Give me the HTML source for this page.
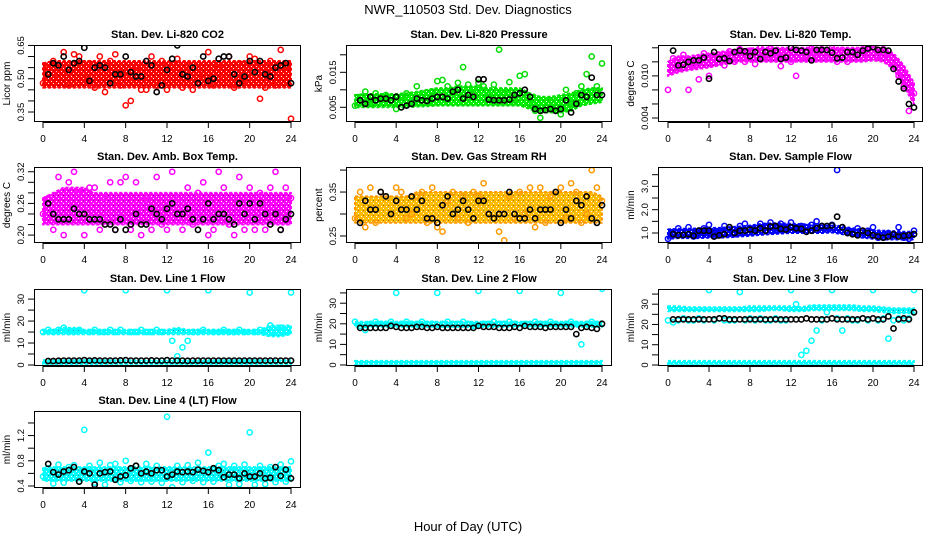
<!DOCTYPE html>
<html><head><meta charset="utf-8">
<style>
html,body{margin:0;padding:0;background:#fff;}
svg{display:block;font-family:"Liberation Sans",sans-serif;}
</style></head>
<body>
<svg id="chart" width="936" height="540" viewBox="0 0 936 540" xmlns="http://www.w3.org/2000/svg">
<text x="468" y="14" text-anchor="middle" font-size="13">NWR_110503  Std. Dev. Diagnostics</text>
<text x="468" y="531" text-anchor="middle" font-size="13">Hour of Day (UTC)</text>
</svg>
<script>
const hours = [0,1,2,3,4,5,6,7,8,9,10,11,12,13,14,15,16,17,18,19,20,21,22,23,24];
const halfHours = [0,0.5,1,1.5,2,2.5,3,3.5,4,4.5,5,5.5,6,6.5,7,7.5,8,8.5,9,9.5,10,10.5,11,11.5,12,12.5,13,13.5,14,14.5,15,15.5,16,16.5,17,17.5,18,18.5,19,19.5,20,20.5,21,21.5,22,22.5,23,23.5,24];
const blackHours = [0.5,1,1.5,2,2.5,3,3.5,4,4.5,5,5.5,6,6.5,7,7.5,8,8.5,9,9.5,10,10.5,11,11.5,12,12.5,13,13.5,14,14.5,15,15.5,16,16.5,17,17.5,18,18.5,19,19.5,20,20.5,21,21.5,22,22.5,23,23.5,24];
const xTicks = [0,4,8,12,16,20,24];

// CO2
const co2Lo = [0.46,0.46,0.46,0.46,0.46,0.46,0.46,0.46,0.46,0.46,0.46,0.46,0.46,0.46,0.46,0.46,0.46,0.46,0.46,0.46,0.46,0.46,0.46,0.46,0.46];
const co2Hi = [0.57,0.58,0.58,0.58,0.58,0.58,0.58,0.58,0.58,0.58,0.58,0.58,0.58,0.58,0.58,0.58,0.58,0.58,0.58,0.58,0.58,0.58,0.58,0.58,0.58];
const co2Col = [0.48,0.55,0.58,0.52,0.62,0.47,0.61,0.60,0.50,0.57,0.46,0.60,0.44,0.58,0.61,0.47,0.38,0.40,0.55,0.45,0.45,0.60,0.47,0.58,0.45,0.55,0.59,0.46,0.56,0.45,0.55,0.52,0.62,0.47,0.55,0.50,0.60,0.46,0.57,0.49,0.60,0.59,0.41,0.46,0.58,0.47,0.63,0.55,0.32];
const co2Blk = [0.52,0.57,0.56,0.60,0.54,0.57,0.58,0.64,0.49,0.55,0.56,0.55,0.48,0.52,0.52,0.60,0.53,0.51,0.51,0.58,0.56,0.44,0.47,0.54,0.59,0.65,0.52,0.51,0.55,0.48,0.60,0.49,0.50,0.59,0.60,0.60,0.52,0.48,0.51,0.58,0.53,0.58,0.52,0.51,0.55,0.56,0.57,0.48];
// Pressure
const prsLo = [0.0050,0.0050,0.0050,0.0050,0.0050,0.0050,0.0052,0.0053,0.0055,0.0055,0.0055,0.0055,0.0055,0.0055,0.0055,0.0055,0.0055,0.0045,0.0035,0.0035,0.0035,0.0040,0.0055,0.0060,0.0065];
const prsHi = [0.0085,0.0088,0.0088,0.0088,0.0088,0.0090,0.0095,0.0100,0.0105,0.0105,0.0110,0.0110,0.0110,0.0105,0.0105,0.0105,0.0105,0.0090,0.0080,0.0080,0.0085,0.0090,0.0100,0.0105,0.0105];
const prsCol = [0.0055,0.0080,0.0095,0.0060,0.0090,0.0075,0.0085,0.0070,0.0045,0.0080,0.0090,0.0060,0.0110,0.0080,0.0070,0.0095,0.0125,0.0128,0.0110,0.0090,0.0120,0.0165,0.0115,0.0090,0.0120,0.0110,0.0080,0.0115,0.0215,0.0090,0.0122,0.0070,0.0140,0.0145,0.0060,0.0040,0.0020,0.0050,0.0070,0.0050,0.0030,0.0100,0.0060,0.0090,0.0110,0.0145,0.0195,0.0110,0.0175];
const prsBlk = [0.0070,0.0060,0.0080,0.0070,0.0075,0.0075,0.0070,0.0080,0.0050,0.0055,0.0060,0.0075,0.0070,0.0068,0.0075,0.0080,0.0080,0.0075,0.0095,0.0100,0.0075,0.0085,0.0080,0.0130,0.0130,0.0072,0.0070,0.0070,0.0070,0.0072,0.0085,0.0090,0.0100,0.0080,0.0045,0.0040,0.0042,0.0045,0.0040,0.0045,0.0070,0.0035,0.0060,0.0085,0.0080,0.0135,0.0085,0.0085];
// Li temp
const ltLo = [0.0100,0.0105,0.0108,0.0110,0.0112,0.0115,0.0118,0.0120,0.0120,0.0120,0.0120,0.0120,0.0120,0.0120,0.0120,0.0120,0.0120,0.0120,0.0120,0.0120,0.0122,0.0120,0.0110,0.0085,0.0060];
const ltHi = [0.0120,0.0128,0.0128,0.0130,0.0132,0.0134,0.0136,0.0138,0.0139,0.0140,0.0140,0.0140,0.0140,0.0140,0.0140,0.0140,0.0140,0.0140,0.0140,0.0140,0.0141,0.0140,0.0132,0.0115,0.0090];
const ltCol = [0.0080,0.0125,0.0110,0.0130,0.0080,0.0115,0.0095,0.0132,0.0100,0.0125,0.0130,0.0115,0.0135,0.0120,0.0138,0.0120,0.0136,0.0117,0.0140,0.0125,0.0139,0.0130,0.0114,0.0135,0.0120,0.0100,0.0136,0.0125,0.0139,0.0130,0.0138,0.0125,0.0140,0.0120,0.0137,0.0120,0.0136,0.0125,0.0138,0.0130,0.0140,0.0128,0.0138,0.0125,0.0115,0.0100,0.0085,0.0050,0.0075];
const ltBlk = [0.0136,0.0115,0.0116,0.0120,0.0122,0.0122,0.0126,0.0096,0.0134,0.0124,0.0125,0.0121,0.0134,0.0136,0.0135,0.0128,0.0134,0.0124,0.0134,0.0132,0.0136,0.0124,0.0126,0.0140,0.0137,0.0136,0.0134,0.0122,0.0137,0.0137,0.0137,0.0133,0.0125,0.0126,0.0134,0.0134,0.0130,0.0136,0.0139,0.0141,0.0137,0.0137,0.0136,0.0110,0.0092,0.0082,0.0060,0.0055];
// Amb box temp
const abLo = [0.22,0.22,0.22,0.22,0.22,0.22,0.22,0.22,0.22,0.22,0.22,0.22,0.22,0.22,0.22,0.22,0.22,0.22,0.22,0.22,0.22,0.22,0.22,0.22,0.22];
const abHi = [0.27,0.28,0.29,0.29,0.29,0.28,0.28,0.28,0.28,0.28,0.28,0.28,0.28,0.28,0.28,0.28,0.28,0.28,0.28,0.28,0.28,0.28,0.28,0.28,0.28];
const abCol = [0.24,0.27,0.21,0.31,0.20,0.30,0.32,0.28,0.20,0.29,0.29,0.21,0.27,0.30,0.21,0.30,0.31,0.21,0.30,0.20,0.27,0.21,0.31,0.22,0.21,0.32,0.27,0.21,0.29,0.22,0.28,0.30,0.20,0.21,0.32,0.29,0.22,0.20,0.31,0.21,0.29,0.21,0.28,0.21,0.29,0.32,0.21,0.29,0.27];
const abBlk = [0.26,0.24,0.23,0.23,0.23,0.25,0.24,0.24,0.23,0.23,0.23,0.22,0.22,0.21,0.23,0.21,0.22,0.24,0.22,0.22,0.25,0.24,0.23,0.25,0.26,0.24,0.24,0.25,0.23,0.21,0.23,0.26,0.23,0.24,0.24,0.23,0.22,0.26,0.24,0.26,0.23,0.26,0.24,0.22,0.24,0.21,0.23,0.24];
// RH
const rhLo = [0.28,0.28,0.28,0.28,0.28,0.28,0.28,0.28,0.28,0.28,0.28,0.28,0.28,0.28,0.28,0.28,0.28,0.28,0.28,0.28,0.28,0.28,0.28,0.28,0.28];
const rhHi = [0.34,0.34,0.34,0.34,0.34,0.34,0.35,0.35,0.35,0.35,0.35,0.35,0.35,0.35,0.35,0.35,0.35,0.35,0.35,0.35,0.35,0.35,0.35,0.35,0.34];
const rhCol = [0.29,0.35,0.27,0.36,0.28,0.35,0.34,0.30,0.36,0.35,0.29,0.30,0.34,0.35,0.28,0.36,0.27,0.26,0.33,0.35,0.29,0.34,0.28,0.35,0.34,0.37,0.30,0.29,0.26,0.24,0.34,0.29,0.35,0.30,0.36,0.27,0.36,0.28,0.34,0.35,0.36,0.29,0.37,0.35,0.28,0.30,0.40,0.36,0.33];
const rhBlk = [0.28,0.33,0.31,0.31,0.35,0.34,0.30,0.33,0.31,0.31,0.34,0.31,0.33,0.29,0.29,0.28,0.32,0.34,0.30,0.31,0.33,0.31,0.29,0.33,0.33,0.30,0.29,0.30,0.30,0.35,0.30,0.29,0.29,0.31,0.29,0.31,0.31,0.31,0.35,0.28,0.31,0.29,0.33,0.32,0.34,0.29,0.28,0.32];
// Sample flow
const sfLo = [0.75,0.78,0.78,0.78,0.80,0.80,0.82,0.85,0.88,0.92,0.95,0.98,1.00,1.00,1.00,1.00,1.02,0.95,0.85,0.80,0.75,0.72,0.72,0.72,0.72];
const sfHi = [1.15,1.18,1.18,1.20,1.22,1.22,1.25,1.28,1.32,1.38,1.42,1.42,1.40,1.38,1.36,1.36,1.35,1.28,1.20,1.15,1.12,1.10,1.08,1.05,1.05];
const sfCol = [0.75,1.05,1.20,0.90,1.25,0.85,1.10,1.20,1.35,0.85,1.05,1.30,1.15,0.95,1.30,1.40,1.20,1.15,1.40,1.30,1.45,1.15,1.40,1.20,1.45,1.15,1.30,1.25,1.35,1.50,1.30,1.20,1.35,3.70,1.25,1.10,1.00,1.20,0.90,1.10,1.25,0.80,0.85,1.00,0.90,1.25,0.80,0.75,1.10];
const sfBlk = [0.95,0.90,0.92,0.95,0.88,1.10,1.10,1.10,0.85,0.90,0.95,1.25,1.00,1.10,1.10,1.15,1.10,1.20,1.10,1.28,1.30,1.18,1.15,1.25,1.20,1.18,1.05,1.10,1.20,1.30,1.30,1.32,1.70,1.25,1.00,0.95,0.90,1.10,1.00,0.90,0.85,0.80,0.85,0.95,0.85,0.88,0.90,0.95];
// Line 1 flow
const l1Lo = [14,14,14,14,14,14,14,14,14,14,14,14,14,14,14,14,14,14,14,14,14,14,13,13,14];
const l1Hi = [16,16,17,17,16,16,16,16,16,16,16,16,16,17,16,16,16,16,16,16,16,16,18,18,18];
const l1Lo2 = [0.3,0.3,0.3,0.3,0.3,0.3,0.3,0.3,0.3,0.3,0.3,0.3,0.3,0.3,0.3,0.3,0.3,0.3,0.3,0.3,0.3,0.3,0.3,0.3,0.3];
const l1Hi2 = [2.2,2.2,2.2,2.2,2.2,2.2,2.2,2.2,2.2,2.2,2.2,2.2,2.2,2.2,2.2,2.2,2.2,2.2,2.2,2.2,2.2,2.2,2.2,2.2,2.2];
const l1Col = [15,16,15,16,17,15,15,16,34,15,16,15,15,16,15,16,34,15,15,16,15,15,16,15,34,11,4,8,11,15,15,16,34,15,15,16,15,15,16,15,33,15,16,15,18,15,17,15,33];
const l1Blk = [1.8,1.8,1.9,2.0,2.0,2.0,2.0,2.2,2.0,2.1,2.0,2.0,2.0,2.0,2.1,2.2,2.0,2.0,2.0,2.0,2.1,2.0,2.0,2.2,2.0,2.0,2.0,1.9,2.0,2.0,2.0,2.0,2.0,2.0,2.0,2.0,2.0,2.0,2.0,2.0,2.0,2.0,2.0,2.0,2.0,2.0,2.0,2.0];
// Line 2 flow
const l2Lo = [18.5,18.5,18.5,18.5,18.5,18.5,18.5,18.5,18.5,18.5,18.5,18.5,18.5,18.5,18.5,18.5,18.5,18.5,18.5,18.5,18.5,18.5,18.5,18.5,18.5];
const l2Hi = [21,21,21,21,21,21,21,21,21,21,21,21,21,21,21,21,21,21,21,21,21,21,21,21,21];
const l2Lo2 = [0.2,0.2,0.2,0.2,0.2,0.2,0.2,0.2,0.2,0.2,0.2,0.2,0.2,0.2,0.2,0.2,0.2,0.2,0.2,0.2,0.2,0.2,0.2,0.2,0.2];
const l2Hi2 = [2,2,2,2,2,2,2,2,2,2,2,2,2,2,2,2,2,2,2,2,2,2,2,2,2];
const l2Col = [21,19,17,20,21,20,20,21,35,20,21,20,20,21,20,20,35,20,21,20,20,21,20,19,36,20,20,21,20,20,21,20,36,20,20,21,20,20,21,20,35,20,21,20,10,20,21,20,37];
const l2Blk = [18,18,18,18,18,18,19,18.5,18,18,18,18.5,18.5,18,18,18.5,18,18,18,18,18,18,18,19,18.5,18.5,18.5,18,18,18,18.5,18,19,18.5,18.5,18.5,18,18.5,18.5,18.5,18.5,18.5,15,18,18.5,18,17.5,20];
// Line 3 flow
const l3Lo = [26.5,26.5,26.5,26.5,26.5,26.5,26.5,26.5,26.5,26.5,27,27,26.5,26.5,27,27,27,27,27,26.5,26.5,26,25.5,25.5,25.5];
const l3Hi = [29,29,28.5,28.5,28.5,28.5,28.5,28.5,29,29,29,29,29,28.5,29.5,29.5,29.5,29.5,29.5,29,29,28.5,28,28,28];
const l3Lo2 = [0.2,0.2,0.2,0.2,0.2,0.2,0.2,0.2,0.2,0.2,0.2,0.2,0.2,0.2,0.2,0.2,0.2,0.2,0.2,0.2,0.2,0.2,0.2,0.2,0.2];
const l3Hi2 = [2,2,2,2,2,2,2,2,2,2,2,2,2,2,2,2,2,2,2,2,2,2,2,2,2];
const l3Col = [22,21,22,23,22,22,23,22,37,22,23,22,22,22,36,22,23,22,23,22,22,23,22,22,37,30,5,7,12,17,22,26,37,23,17,23,22,22,23,22,37,22,23,13,22,23,22,23,37];
const l3Blk = [22.5,22.5,22.5,22.5,22.5,22.5,22.5,22.5,22.5,23,23,22.5,22.5,22.5,22.5,22.5,22.5,22.5,22.5,22.5,22.5,22.5,22.5,22.5,22.5,22.5,23,22.5,22.5,22.5,22.5,23,22.5,22.5,22.5,22.5,22.5,23,22.5,23,22.5,22.5,24,18,22.5,23,22.5,26];
// Line 4 flow
const l4Lo = [0.48,0.48,0.48,0.48,0.48,0.48,0.48,0.48,0.48,0.48,0.48,0.48,0.48,0.48,0.48,0.48,0.48,0.48,0.48,0.48,0.48,0.48,0.48,0.48,0.48];
const l4Hi = [0.68,0.70,0.70,0.70,0.70,0.70,0.70,0.70,0.70,0.70,0.70,0.70,0.70,0.70,0.70,0.70,0.70,0.70,0.70,0.70,0.70,0.70,0.70,0.70,0.70];
const l4Col = [0.55,0.68,0.44,0.74,0.45,0.70,0.73,0.47,1.29,0.72,0.45,0.77,0.42,0.73,0.75,0.46,0.80,0.48,0.72,0.46,0.75,0.47,0.72,0.45,1.50,0.38,0.72,0.46,0.73,0.48,0.77,0.46,0.93,0.47,0.72,0.75,0.42,0.72,0.43,0.74,1.25,0.42,0.72,0.43,0.70,0.46,0.74,0.47,0.79];
const l4Blk = [0.75,0.62,0.58,0.63,0.65,0.70,0.47,0.63,0.60,0.42,0.60,0.62,0.63,0.50,0.55,0.57,0.68,0.72,0.60,0.63,0.60,0.65,0.65,0.55,0.58,0.63,0.62,0.63,0.62,0.66,0.64,0.62,0.68,0.65,0.54,0.58,0.58,0.52,0.60,0.55,0.55,0.60,0.52,0.53,0.70,0.56,0.66,0.52];

// y tick values & labels per panel
const co2Ticks = [0.35,0.40,0.45,0.50,0.55,0.60,0.65];
const co2Labels = ["0.35","","","0.50","","","0.65"];
const prsTicks = [0.005,0.010,0.015,0.020];
const prsLabels = ["0.005","","0.015",""];
const ltTicks = [0.004,0.006,0.008,0.010,0.012,0.014];
const ltLabels = ["0.004","","","0.010","",""];
const abTicks = [0.20,0.22,0.24,0.26,0.28,0.30,0.32];
const abLabels = ["0.20","","","0.26","","","0.32"];
const rhTicks = [0.25,0.30,0.35,0.40];
const rhLabels = ["0.25","","0.35",""];
const sfTicks = [1.0,1.5,2.0,2.5,3.0,3.5];
const sfLabels = ["1.0","","2.0","","3.0",""];
const l1Ticks = [0,5,10,15,20,25,30];
const l1Labels = ["0","","10","","20","","30"];
const l2Ticks = [0,5,10,15,20,25,30,35];
const l2Labels = ["0","","10","","20","","30",""];
const l4Ticks = [0.4,0.6,0.8,1.0,1.2,1.4];
const l4Labels = ["0.4","","0.8","","1.2",""];

const NS = "http://www.w3.org/2000/svg";
const svg = document.getElementById('chart');
const cols = [{l:34,r:301,x0:43,x24:291},{l:346,r:612,x0:355,x24:602},{l:658,r:923,x0:668,x24:914}];
const rows = [{t:45,b:122},{t:167,b:243},{t:289,b:366},{t:411,b:488}];

function mk(tag, attrs, parent){const e=document.createElementNS(NS,tag);for(const k in attrs)e.setAttribute(k,attrs[k]);(parent||svg).appendChild(e);return e;}

const defs = mk('defs',{});
function pattern(id,color){
  const p = mk('pattern',{id:id,width:5,height:5,patternUnits:'userSpaceOnUse'},defs);
  mk('rect',{x:0,y:0,width:5,height:5,fill:color},p);
  mk('rect',{x:1,y:1,width:1,height:1,fill:'#fff'},p);
  mk('rect',{x:3,y:3,width:1,height:1,fill:'#fff'},p);
  mk('rect',{x:3,y:0,width:1,height:1,fill:'#000','fill-opacity':0.35},p);
}
pattern('p-red','#ff0000');pattern('p-green','#00ee00');pattern('p-mag','#ff00ff');
pattern('p-org','#ffbb00');pattern('p-blue','#0000ff');pattern('p-cyan','#00ffff');

const panels = [
 {name:'co2',title:'Stan. Dev. Li-820 CO2',ylab:'Licor ppm',c:0,r:0,ymin:0.305,ymax:0.652,ticks:co2Ticks,labels:co2Labels,color:'#ff0000',pat:'p-red',bands:[[co2Lo,co2Hi]],col:co2Col,blk:co2Blk},
 {name:'pressure',title:'Stan. Dev. Li-820 Pressure',ylab:'kPa',c:1,r:0,ymin:0.0008,ymax:0.0228,ticks:prsTicks,labels:prsLabels,color:'#00dd00',pat:'p-green',bands:[[prsLo,prsHi]],col:prsCol,blk:prsBlk},
 {name:'li-temp',title:'Stan. Dev. Li-820 Temp.',ylab:'degrees C',c:2,r:0,ymin:0.00343,ymax:0.0144,ticks:ltTicks,labels:ltLabels,color:'#ff00ff',pat:'p-mag',bands:[[ltLo,ltHi]],col:ltCol,blk:ltBlk},
 {name:'amb-box-temp',title:'Stan. Dev. Amb. Box Temp.',ylab:'degrees C',c:0,r:1,ymin:0.185,ymax:0.329,ticks:abTicks,labels:abLabels,color:'#ff00ff',pat:'p-mag',bands:[[abLo,abHi]],col:abCol,blk:abBlk},
 {name:'gas-rh',title:'Stan. Dev. Gas Stream RH',ylab:'percent',c:1,r:1,ymin:0.234,ymax:0.407,ticks:rhTicks,labels:rhLabels,color:'#ff9900',pat:'p-org',bands:[[rhLo,rhHi]],col:rhCol,blk:rhBlk},
 {name:'sample-flow',title:'Stan. Dev. Sample Flow',ylab:'ml/min',c:2,r:1,ymin:0.571,ymax:3.83,ticks:sfTicks,labels:sfLabels,color:'#0000ff',pat:'p-blue',bands:[[sfLo,sfHi]],col:sfCol,blk:sfBlk},
 {name:'line1-flow',title:'Stan. Dev. Line 1 Flow',ylab:'ml/min',c:0,r:2,ymin:-0.46,ymax:34.6,ticks:l1Ticks,labels:l1Labels,color:'#00ffff',pat:'p-cyan',bands:[[l1Lo,l1Hi],[l1Lo2,l1Hi2]],col:l1Col,blk:l1Blk},
 {name:'line2-flow',title:'Stan. Dev. Line 2 Flow',ylab:'ml/min',c:1,r:2,ymin:-0.5,ymax:36.9,ticks:l2Ticks,labels:l2Labels,color:'#00ffff',pat:'p-cyan',bands:[[l2Lo,l2Hi],[l2Lo2,l2Hi2]],col:l2Col,blk:l2Blk},
 {name:'line3-flow',title:'Stan. Dev. Line 3 Flow',ylab:'ml/min',c:2,r:2,ymin:-0.5,ymax:37.5,ticks:l2Ticks,labels:l2Labels,color:'#00ffff',pat:'p-cyan',bands:[[l3Lo,l3Hi],[l3Lo2,l3Hi2]],col:l3Col,blk:l3Blk},
 {name:'line4-flow',title:'Stan. Dev. Line 4 (LT) Flow',ylab:'ml/min',c:0,r:3,ymin:0.368,ymax:1.59,ticks:l4Ticks,labels:l4Labels,color:'#00ffff',pat:'p-cyan',bands:[[l4Lo,l4Hi]],col:l4Col,blk:l4Blk}
];

panels.forEach(p=>{
  const C=cols[p.c], R=rows[p.r];
  const g = mk('g',{});
  
  
  const xs = h => C.x0 + h/24*(C.x24-C.x0);
  const ys = v => R.b - (v-p.ymin)/(p.ymax-p.ymin)*(R.b-R.t);
  const clipId = 'clip-'+p.name;
  const cp = mk('clipPath',{id:clipId},defs);
  mk('rect',{x:C.l,y:R.t,width:C.r-C.l,height:R.b-R.t},cp);
  const inner = mk('g',{'clip-path':'url(#'+clipId+')'},g);
  p.bands.forEach((b,bi)=>{
    let d='';
    hours.forEach((h,i)=>{d+=(i?'L':'M')+xs(h).toFixed(1)+','+ys(b[1][i]).toFixed(1);});
    for(let i=hours.length-1;i>=0;i--){d+='L'+xs(hours[i]).toFixed(1)+','+ys(b[0][i]).toFixed(1);}
    d+='Z';
    const band = mk('path',{d:d,fill:'url(#'+p.pat+')',stroke:p.color,'stroke-width':2,'stroke-dasharray':'3 2','stroke-linejoin':'round'},inner);
    
    
  });
  p.col.forEach((v,i)=>{
    const c = mk('circle',{cx:xs(halfHours[i]).toFixed(1),cy:ys(v).toFixed(1),r:2.6,fill:'none',stroke:p.color,'stroke-width':1.5},inner);
    
    
  });
  p.blk.forEach((v,i)=>{
    const c = mk('circle',{cx:xs(blackHours[i]).toFixed(1),cy:ys(v).toFixed(1),r:2.6,fill:'none',stroke:'#000','stroke-width':1.6},inner);
    
    
  });
  const box = mk('rect',{x:C.l+0.5,y:R.t+0.5,width:C.r-C.l-1,height:R.b-R.t-1,fill:'none',stroke:'#000','stroke-width':1},g);
  
  
  const t = mk('text',{x:(C.l+C.r)/2,y:R.t-7,'text-anchor':'middle','font-size':11,'font-weight':'bold'},g);
  t.textContent = p.title;
  
  
  const xa = mk('path',{d:'M'+C.x0+','+(R.b+0.5)+'H'+C.x24,stroke:'#000',fill:'none'},g);
  
  
  xTicks.forEach(h=>{
    mk('line',{x1:xs(h),x2:xs(h),y1:R.b,y2:R.b+6,stroke:'#000'},g);
    const tl = mk('text',{x:xs(h),y:R.b+20,'text-anchor':'middle','font-size':10},g);
    tl.textContent = h;
    
    
  });
  const yTop = ys(p.ticks[p.ticks.length-1]), yBot = ys(p.ticks[0]);
  mk('path',{d:'M'+(C.l+0.5)+','+yBot+'V'+yTop,stroke:'#000',fill:'none'},g);
  p.ticks.forEach((v,i)=>{
    const y=ys(v);
    mk('line',{x1:C.l,x2:C.l-6,y1:y,y2:y,stroke:'#000'},g);
    if(p.labels[i]){
      const lx=C.l-10;
      const tl = mk('text',{x:lx,y:y,'text-anchor':'middle','font-size':9.5,transform:'rotate(-90 '+lx+' '+y+')'},g);
      tl.textContent = p.labels[i];
      
      
    }
  });
  const yx=C.l-24, yy=(R.t+R.b)/2;
  const yl = mk('text',{x:yx,y:yy,'text-anchor':'middle','font-size':10,transform:'rotate(-90 '+yx+' '+yy+')'},g);
  yl.textContent = p.ylab;
  
  
});
</script>
</body></html>
